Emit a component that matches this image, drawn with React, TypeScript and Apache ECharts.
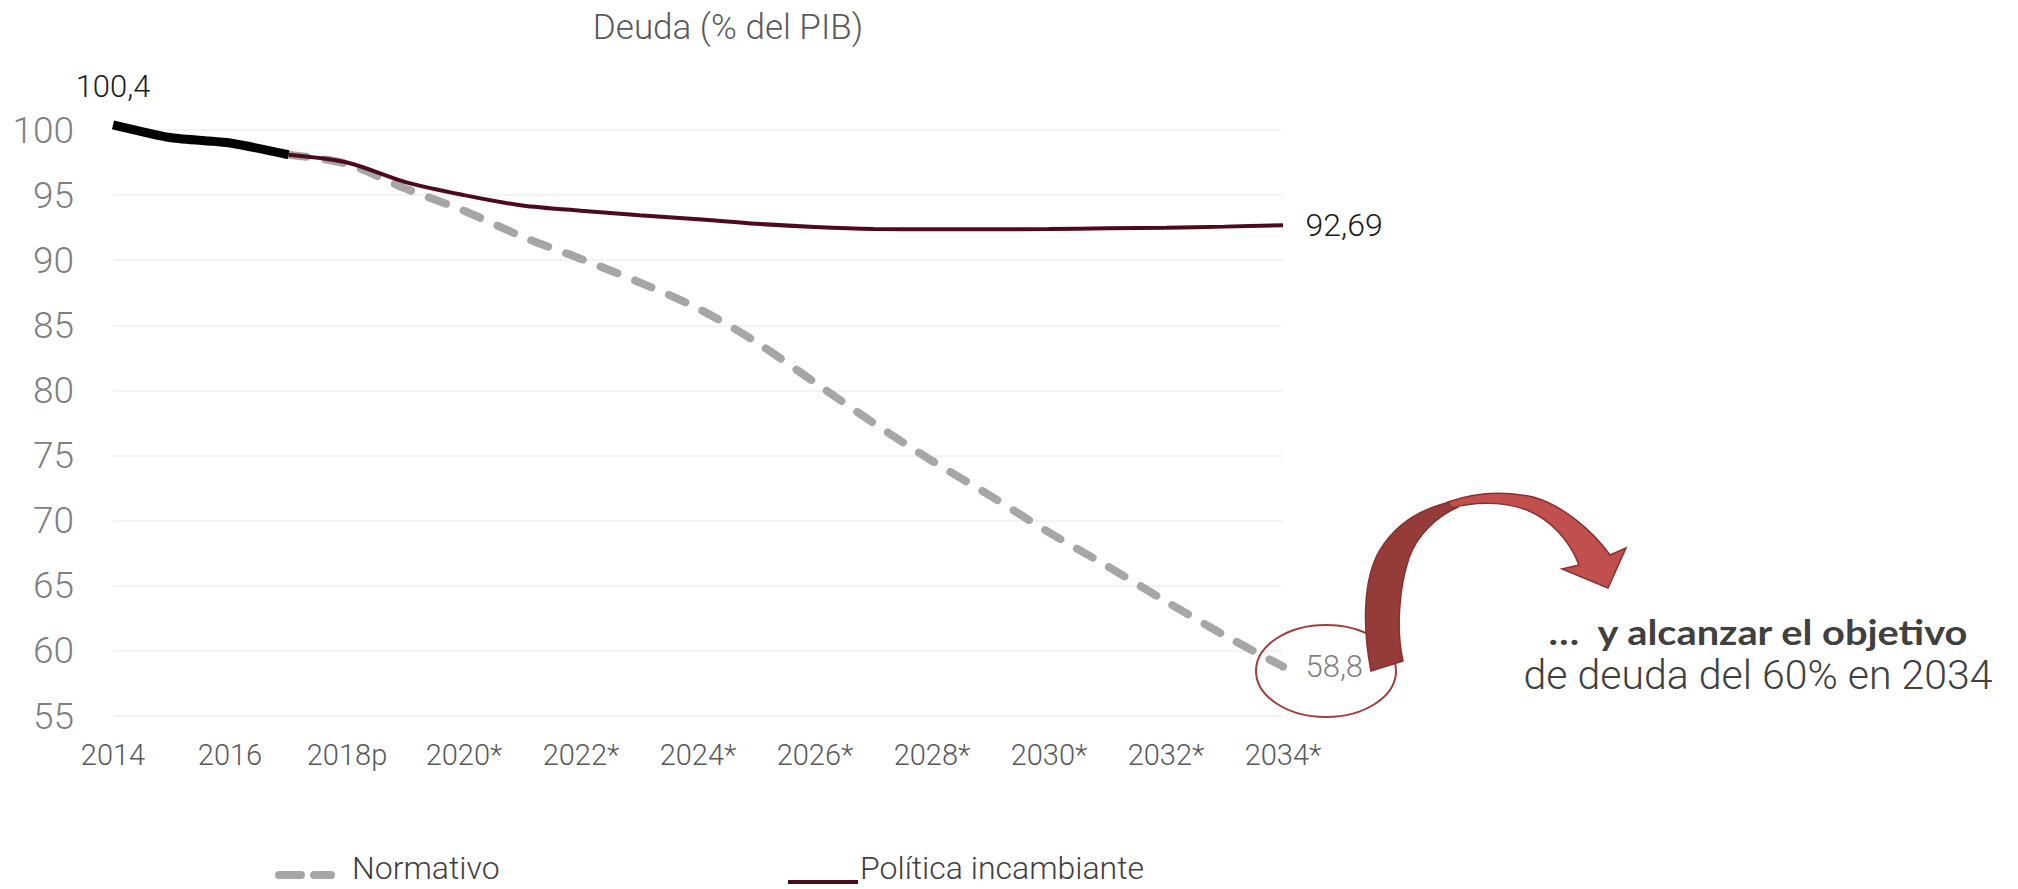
import React, { useEffect, useRef } from "react";
import * as echarts from "echarts";

const years = [
  "2014", "2015", "2016", "2017", "2018p", "2019*", "2020*", "2021*", "2022*", "2023*", "2024*",
  "2025*", "2026*", "2027*", "2028*", "2029*", "2030*", "2031*", "2032*", "2033*", "2034*",
];
const historico = [100.4, 99.4, 99.0, 98.1, null, null, null, null, null, null, null, null, null, null, null, null, null, null, null, null, null];
const normativo = [null, null, null, 98.1, 97.4, 95.5, 93.8, 91.8, 90.1, 88.3, 86.3, 83.7, 80.6, 77.5, 74.6, 71.9, 69.1, 66.5, 63.8, 61.2, 58.8];
const politica = [null, null, null, 98.1, 97.5, 96.0, 95.0, 94.2, 93.8, 93.45, 93.15, 92.8, 92.55, 92.4, 92.38, 92.38, 92.4, 92.45, 92.5, 92.58, 92.69];
const yTicks = { min: 55, max: 100, interval: 5 };
const titleText = "Deuda (% del PIB)";
const noteBold = "…  y alcanzar el objetivo";
const noteRegular = "de deuda del 60% en 2034";

const THIN = "Roboto, 'DejaVu Sans Condensed', sans-serif";

const fmt = (v: number) => String(v).replace(".", ",");

function withLabel(arr: (number | null)[], idx: number, label: any) {
  return arr.map((v, i) => (i === idx ? { value: v, label: { show: true, opacity: 1, ...label } } : v));
}

const arrowDark =
  "M 1371 671 C 1363 630 1362 580 1380 550 C 1395 525 1420 508 1455 501 L 1458 507 C 1436 517 1417 535 1409 558 C 1399 588 1396 630 1403 661 Z";
const arrowLight =
  "M 1448 502 C 1470 494 1500 490 1533 497 C 1562 505 1592 530 1610 555 L 1626 548 L 1608 588 L 1562 569 L 1579 565 C 1570 541 1551 520 1527 510 C 1505 502 1476 501 1452 508 Z";

const dashIcon =
  "path://M0,0 L0.01,0 L0.01,0.01 Z M4,14 H26 A4,4 0 0 1 26,22 H4 A4,4 0 0 1 4,14 Z M39,14 H56 A4,4 0 0 1 56,22 H39 A4,4 0 0 1 39,14 Z";
const solidIcon = "path://M0,0 L0.01,0 L0.01,0.01 Z M0,28 H70 V32 H0 Z";

const hiddenSymbol = {
  symbol: "circle",
  symbolSize: 1,
  showSymbol: true,
  itemStyle: { color: "rgba(0,0,0,0)", borderWidth: 0 },
};

export default function App() {
  const ref = useRef<HTMLDivElement>(null);
  useEffect(() => {
    if (!ref.current) return;
    echarts.graphic.registerShape("arrowDark", echarts.graphic.extendPath(arrowDark, {}));
    echarts.graphic.registerShape("arrowLight", echarts.graphic.extendPath(arrowLight, {}));
    const chart = echarts.init(ref.current, undefined, { renderer: "svg" });
    const last = years.length - 1;
    chart.setOption({
      animation: false,
      backgroundColor: "#ffffff",
      title: {
        text: titleText,
        left: 723,
        textAlign: "center",
        top: 5,
        textStyle: { fontFamily: THIN, fontSize: 35, fontWeight: 300, color: "#595959" },
      },
      legend: [
        {
          data: ["Normativo"],
          left: 275,
          top: 852,
          padding: 0,
          icon: dashIcon,
          itemWidth: 60,
          itemHeight: 22,
          itemStyle: { color: "#a6a6a6", borderWidth: 0, opacity: 1 },
          textStyle: { fontFamily: THIN, fontSize: 32, lineHeight: 32, fontWeight: 300, color: "#404040", padding: [0, 0, 0, 12] },
        },
        {
          data: ["Política incambiante"],
          left: 788,
          top: 852,
          padding: 0,
          icon: solidIcon,
          itemWidth: 72,
          itemHeight: 32,
          itemStyle: { color: "#4d0a1c", borderWidth: 0, opacity: 1 },
          textStyle: { fontFamily: THIN, fontSize: 32, lineHeight: 32, fontWeight: 300, color: "#404040", padding: [0, 0, 0, -4] },
        },
      ],
      grid: { left: 113, right: 735, top: 130, bottom: 173, containLabel: false },
      xAxis: {
        type: "category",
        data: years,
        boundaryGap: false,
        axisLine: { show: false },
        axisTick: { show: false },
        axisLabel: { interval: 1, fontFamily: THIN, fontWeight: 300, fontSize: 29, color: "#595959", margin: 24 },
      },
      yAxis: {
        type: "value",
        min: yTicks.min,
        max: yTicks.max,
        interval: yTicks.interval,
        axisLine: { show: false },
        axisTick: { show: false },
        axisLabel: { fontFamily: THIN, fontWeight: 300, fontSize: 37, color: "#7f7f7f", margin: 39 },
        splitLine: { lineStyle: { color: "#efefef", width: 1.5 } },
      },
      series: [
        {
          name: "Normativo",
          type: "line",
          data: withLabel(normativo, last, {
            position: "right",
            distance: 22,
            formatter: (p: any) => fmt(p.value),
            fontFamily: THIN,
            fontWeight: 300,
            fontSize: 31,
            color: "#7f7f7f",
          }),
          smooth: 0.3,
          ...hiddenSymbol,
          clip: false,
          z: 2,
          lineStyle: { color: "#a6a6a6", width: 8, type: [18, 19], cap: "round" },
        },
        {
          name: "Política incambiante",
          type: "line",
          data: withLabel(politica, last, {
            position: "right",
            distance: 22,
            formatter: (p: any) => fmt(p.value),
            fontFamily: THIN,
            fontWeight: 300,
            fontSize: 32,
            color: "#1a1a1a",
          }),
          smooth: 0.3,
          ...hiddenSymbol,
          clip: false,
          z: 3,
          lineStyle: { color: "#4d0a1c", width: 4 },
        },
        {
          name: "Histórico",
          type: "line",
          data: withLabel(historico, 0, {
            position: "top",
            distance: 22,
            formatter: (p: any) => fmt(p.value),
            fontFamily: THIN,
            fontWeight: 300,
            fontSize: 31,
            color: "#1a1a1a",
          }),
          smooth: 0.2,
          ...hiddenSymbol,
          clip: false,
          z: 4,
          lineStyle: { color: "#000000", width: 9 },
        },
      ],
      graphic: [
        {
          type: "ellipse",
          shape: { cx: 1326, cy: 671, rx: 70, ry: 46 },
          style: { fill: "none", stroke: "#a03c3c", lineWidth: 2 },
          z: 10,
        },
        {
          type: "arrowDark",
          x: 0,
          y: 0,
          style: { fill: "#953b3a", stroke: "#8a2f2f", lineWidth: 1.5 },
          z: 11,
        },
        {
          type: "arrowLight",
          x: 0,
          y: 0,
          style: { fill: "#c0504d", stroke: "#8a2f2f", lineWidth: 1.5 },
          z: 12,
        },
        {
          type: "text",
          x: 1758,
          y: 632,
          scaleX: 1.17,
          style: {
            text: noteBold,
            fontFamily: "Lato, 'Open Sans', sans-serif",
            fontWeight: "bold",
            fontSize: 34,
            fill: "#404040",
            align: "center",
            verticalAlign: "middle",
          },
          z: 12,
        },
        {
          type: "text",
          x: 1758,
          y: 675,
          style: {
            text: noteRegular,
            fontFamily: THIN,
            fontWeight: 300,
            fontSize: 41,
            fill: "#404040",
            align: "center",
            verticalAlign: "middle",
          },
          z: 12,
        },
      ],
    });
    return () => chart.dispose();
  }, []);
  return <div ref={ref} style={{ position: "fixed", left: 0, top: 0, width: 2018, height: 889 }} />;
}
